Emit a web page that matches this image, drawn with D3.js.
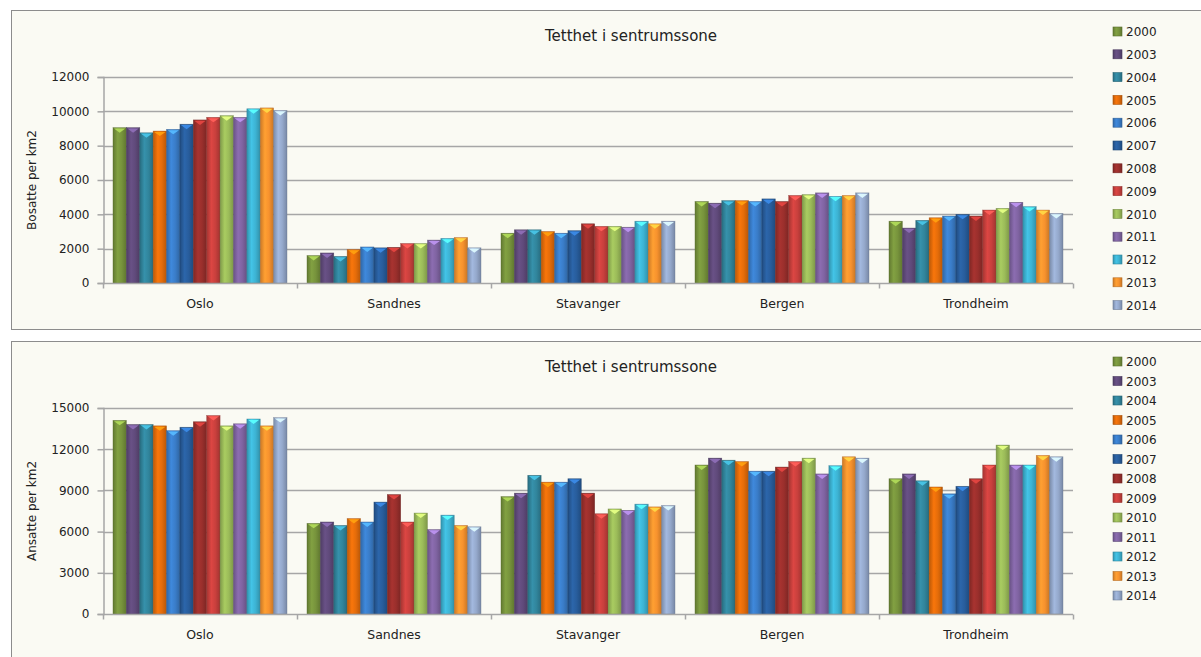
<!DOCTYPE html>
<html>
<head>
<meta charset="utf-8">
<script src="https://cdn.jsdelivr.net/npm/d3@7"></script>
<style>
  html, body { margin: 0; padding: 0; background: #ffffff; }
  svg { display: block; }
  text { font-family: "DejaVu Sans", sans-serif; fill: #222; }
</style>
</head>
<body>
<svg id="chart" width="1201" height="657"></svg>
<script>
// Byer og år
const cities = ["Oslo", "Sandnes", "Stavanger", "Bergen", "Trondheim"];
const years = ["2000", "2003", "2004", "2005", "2006", "2007", "2008", "2009", "2010", "2011", "2012", "2013", "2014"];

// Bosatte per km2, én rekke per by (verdier i årsrekkefølge)
const bosatteOslo      = [9050, 9050, 8750, 8850, 8950, 9250, 9500, 9650, 9750, 9650, 10150, 10200, 10050];
const bosatteSandnes   = [1600, 1750, 1550, 1950, 2100, 2050, 2080, 2300, 2300, 2500, 2600, 2650, 2050];
const bosatteStavanger = [2900, 3100, 3100, 3000, 2900, 3050, 3450, 3300, 3300, 3250, 3600, 3450, 3600];
const bosatteBergen    = [4750, 4650, 4800, 4800, 4750, 4900, 4750, 5100, 5150, 5250, 5050, 5100, 5250];
const bosatteTrondheim = [3600, 3200, 3650, 3800, 3900, 4000, 3900, 4250, 4350, 4700, 4450, 4250, 4050];

// Ansatte per km2
const ansatteOslo      = [14100, 13800, 13800, 13700, 13350, 13600, 14000, 14450, 13700, 13850, 14200, 13700, 14300];
const ansatteSandnes   = [6600, 6700, 6450, 6950, 6700, 8150, 8700, 6700, 7350, 6150, 7200, 6450, 6350];
const ansatteStavanger = [8550, 8800, 10100, 9600, 9600, 9850, 8800, 7300, 7650, 7550, 8000, 7800, 7900];
const ansatteBergen    = [10850, 11350, 11200, 11100, 10400, 10400, 10700, 11100, 11350, 10200, 10800, 11450, 11350];
const ansatteTrondheim = [9850, 10200, 9700, 9250, 8750, 9300, 9850, 10850, 12300, 10850, 10850, 11550, 11450];

// Aksemerker
const bosatteTicks = [0, 2000, 4000, 6000, 8000, 10000, 12000];
const ansatteTicks = [0, 3000, 6000, 9000, 12000, 15000];

// Seriefarger
const yearColors = ["#77933c", "#604a7b", "#31859c", "#e46c0a", "#3a7dc9", "#285d9c",
                    "#9a2f2c", "#c9403d", "#9bbb59", "#8064a2", "#3db3d3", "#f7922e", "#95a9cc"];

const svg = d3.select("#chart");
const defs = svg.append("defs");

// Horisontal glansgradient for hver serie
yearColors.forEach((c, i) => {
  const base = d3.color(c);
  const g = defs.append("linearGradient").attr("id", "bar-" + i)
    .attr("x1", "0%").attr("x2", "100%").attr("y1", "0%").attr("y2", "0%");
  g.append("stop").attr("offset", "0%").attr("stop-color", base.darker(0.55));
  g.append("stop").attr("offset", "35%").attr("stop-color", base.brighter(0.25));
  g.append("stop").attr("offset", "65%").attr("stop-color", base);
  g.append("stop").attr("offset", "100%").attr("stop-color", base.darker(0.6));
});

function drawPanel(cfg) {
  const { top, panelH, plotTop, plotBottom, ticks, maxV, yLabel, rows, legendTop, legendStep } = cfg;
  const left = 103, right = 1073;

  svg.append("rect")
    .attr("x", 11.5).attr("y", top + 0.5)
    .attr("width", 1200).attr("height", panelH)
    .attr("fill", "#fafaf3").attr("stroke", "#8c8c8c").attr("stroke-width", 1);

  const g = svg.append("g");

  const x0 = d3.scaleBand().domain(cities).range([left, right])
    .paddingInner(0.103).paddingOuter(0.0515);
  const x1 = d3.scaleBand().domain(years).range([0, x0.bandwidth()]).padding(0);
  const y = d3.scaleLinear().domain([0, maxV]).range([plotBottom, plotTop]);

  // Rutenett
  g.append("g").selectAll("line").data(ticks.filter(t => t > 0)).join("line")
    .attr("x1", left).attr("x2", right)
    .attr("y1", d => Math.round(y(d)) + 0.5).attr("y2", d => Math.round(y(d)) + 0.5)
    .attr("stroke", "#a6a6a6").attr("stroke-width", 1.5);

  // Y-akse
  const yAxis = d3.axisLeft(y).tickValues(ticks).tickSize(6).tickPadding(8).tickFormat(d3.format("d"));
  const ya = g.append("g").attr("transform", `translate(${left + 0.5},0)`).call(yAxis);
  ya.select(".domain").attr("stroke", "#a6a6a6").attr("stroke-width", 1.5);
  ya.selectAll(".tick line").attr("stroke", "#a6a6a6").attr("stroke-width", 1.5);
  ya.selectAll(".tick text").attr("font-size", 12).attr("font-family", "DejaVu Sans").attr("fill", "#222");

  // Søyler
  const table = rows.map((vals, ci) => ({ city: cities[ci], vals }));
  const groups = g.append("g").selectAll("g").data(table).join("g")
    .attr("transform", d => `translate(${x0(d.city)},0)`);
  groups.selectAll("g.bar").data(d => d.vals.map((v, i) => ({ v, i }))).join("g")
    .attr("class", "bar")
    .each(function (d) {
      const bx = x1(years[d.i]), bw = x1.bandwidth();
      const by = y(d.v), bh = y(0) - y(d.v);
      const sel = d3.select(this);
      sel.append("rect").attr("x", bx).attr("y", by).attr("width", bw).attr("height", bh)
        .attr("fill", `url(#bar-${d.i})`)
        .attr("stroke", d3.color(yearColors[d.i]).darker(1)).attr("stroke-width", 0.6).attr("stroke-opacity", 0.6);
      sel.append("polygon")
        .attr("points", [[bx + 1, by + 0.8], [bx + bw - 1, by + 0.8], [bx + bw / 2, by + 5]].map(p => p.join(",")).join(" "))
        .attr("fill", d3.color(yearColors[d.i]).brighter(1.1)).attr("opacity", 0.95);
    });

  // X-akse
  const bl = Math.round(y(0)) + 0.5;
  g.append("line").attr("x1", left).attr("x2", right).attr("y1", bl).attr("y2", bl)
    .attr("stroke", "#a6a6a6").attr("stroke-width", 1.5);
  const bounds = [left].concat(cities.map(c => x0(c) + x0.bandwidth() + x0.step() * 0.0515));
  g.append("g").selectAll("line").data(bounds).join("line")
    .attr("x1", d => Math.round(d) + 0.5).attr("x2", d => Math.round(d) + 0.5)
    .attr("y1", bl).attr("y2", bl + 5).attr("stroke", "#a6a6a6").attr("stroke-width", 1.5);
  g.append("g").selectAll("text").data(cities).join("text")
    .attr("x", d => x0(d) + x0.bandwidth() / 2).attr("y", bl + 24)
    .attr("text-anchor", "middle").attr("font-size", 12.5).text(d => d);

  // Tittel
  svg.append("text").attr("x", 631).attr("y", top + 31).attr("text-anchor", "middle")
    .attr("font-size", 15).text("Tetthet i sentrumssone");

  // Y-aksetittel
  svg.append("text")
    .attr("transform", `translate(36,${(plotTop + plotBottom) / 2}) rotate(-90)`)
    .attr("text-anchor", "middle").attr("font-size", 12).text(yLabel);

  // Forklaring
  const lg = svg.append("g").selectAll("g").data(years).join("g")
    .attr("transform", (d, i) => `translate(1115,${legendTop + i * legendStep})`);
  lg.append("rect").attr("x", -2).attr("y", -5).attr("width", 9).attr("height", 9)
    .attr("fill", (d, i) => `url(#bar-${i})`)
    .attr("stroke", (d, i) => d3.color(yearColors[i]).darker(0.8)).attr("stroke-width", 0.6);
  lg.append("text").attr("x", 11).attr("y", 0).attr("dy", "0.35em")
    .attr("font-size", 12).text(d => d);
}

drawPanel({
  top: 10, panelH: 319, plotTop: 77, plotBottom: 283,
  ticks: bosatteTicks, maxV: 12000, yLabel: "Bosatte per km2",
  rows: [bosatteOslo, bosatteSandnes, bosatteStavanger, bosatteBergen, bosatteTrondheim],
  legendTop: 32, legendStep: 22.8
});

drawPanel({
  top: 341, panelH: 330, plotTop: 408, plotBottom: 614,
  ticks: ansatteTicks, maxV: 15000, yLabel: "Ansatte per km2",
  rows: [ansatteOslo, ansatteSandnes, ansatteStavanger, ansatteBergen, ansatteTrondheim],
  legendTop: 362, legendStep: 19.5
});
</script>
</body>
</html>
